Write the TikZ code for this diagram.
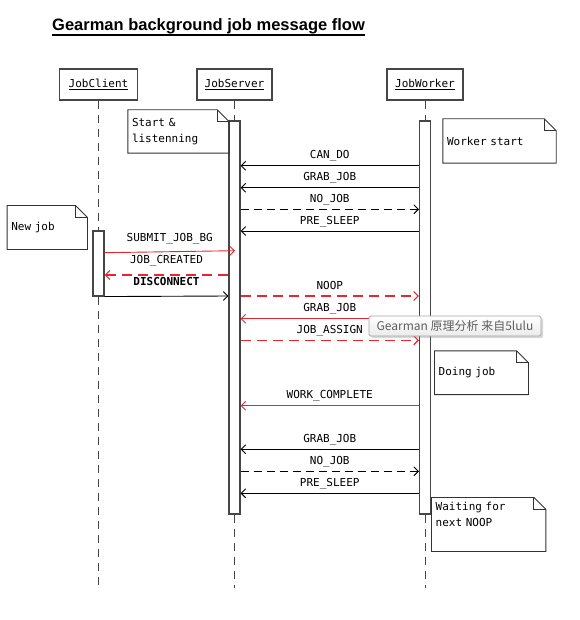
\documentclass[tikz,border=0pt]{standalone}
\usepackage{fontspec}
\newfontfamily\monof{DejaVu Sans Mono}
\newfontfamily\titlef{Liberation Sans}
\newfontfamily\cjkf{Noto Sans CJK SC}
\usetikzlibrary{arrows.meta,shadows}
\definecolor{msgred}{RGB}{228,40,50}
\definecolor{tipborder}{RGB}{165,165,165}
\definecolor{tiptext}{RGB}{95,95,95}
\definecolor{barline}{RGB}{70,70,70}
\newcommand\foldnote[1]{%
  \draw[noteline] (#1.north west) -- ([xshift=-12pt]#1.north east) -- ([yshift=-12pt]#1.north east) -- (#1.south east) -- (#1.south west) -- cycle;
  \draw[noteline] ([xshift=-12pt]#1.north east) |- ([yshift=-12pt]#1.north east);}
\begin{document}
\begin{tikzpicture}[x=1pt,y=-1pt,
  every node/.style={font=\monof\fontsize{11}{15.5}\selectfont},
  head/.style={draw=barline, line width=1.1pt, fill=white, minimum width=#1, minimum height=31pt, inner sep=0pt},
  bar/.style={draw=barline, line width=1.1pt, fill=white, minimum width=11pt, minimum height=#1, inner sep=0pt},
  life/.style={draw=barline, line width=1pt, dash pattern=on 8pt off 6pt},
  msg/.style={line width=0.9pt, draw=black, -{Straight Barb[length=4.5pt,width=9pt]}},
  rmsg/.style={msg, draw=msgred},
  dmsg/.style={msg, dash pattern=on 8pt off 5pt},
  rdmsg/.style={rmsg, line width=1.1pt, dash pattern=on 10pt off 6pt},
  lbl/.style={midway, anchor=base, inner sep=0pt, yshift=#1},
  lbl/.default=7pt,
  notebox/.style={inner xsep=4pt, inner ysep=0pt, align=left},
  noteline/.style={draw=black!80, line width=0.9pt},
  tipbox/.style={draw=tipborder, line width=0.8pt, rounded corners=1.5pt, top color=white, bottom color=black!8,
    minimum width=172pt, minimum height=20pt, inner sep=0pt, text=tiptext,
    font=\cjkf\fontsize{12}{14}\selectfont,
    drop shadow={opacity=0.3, shadow xshift=2pt, shadow yshift=-2pt}}
]
\useasboundingbox (0,0) rectangle (579,620);

% title
\node[anchor=base west, inner sep=0pt, font=\titlef\bfseries\fontsize{16.5}{18}\selectfont] (title) at (52,31) {Gearman background job message flow};
\draw[line width=1.5pt] ([yshift=-4pt]title.base west) -- ([yshift=-4pt]title.base east);

% heads
\node[head=78pt] (client) at (98.5,84.5) {\underline{JobClient}};
\node[head=75pt] (server) at (234.5,84.5) {\underline{JobServer}};
\node[head=76pt] (worker) at (425,84.5) {\underline{JobWorker}};

\coordinate (cend) at (98.5,588);
\coordinate (send) at (234.5,588);
\coordinate (wend) at (425,588);

% bars (positions)
\node[bar=65pt, draw=none, fill=none] (cbar) at (98.5,263.5) {};
\node[bar=393pt, draw=none, fill=none] (sbar) at (234.5,317.5) {};
\node[bar=393pt, draw=none, fill=none] (wbar) at (425,317.5) {};

% lifelines
\draw[life] (client.south) -- (cbar.north);
\draw[life] (cbar.south) -- (cend);
\draw[life] (server.south) -- (sbar.north);
\draw[life] (sbar.south) -- (send);
\draw[life] (worker.south) -- (wbar.north);
\draw[life] (wbar.south) -- (wend);

% bars drawn
\node[bar=65pt] at (cbar) {};
\node[bar=393pt] at (sbar) {};
\node[bar=393pt] at (wbar) {};

% notes
\node[notebox, minimum height=43pt, text width=93pt] (n1) at (178.5,131.5) {Start \&\\listenning};
\foldnote{n1}
\node[notebox, minimum height=44pt, text width=105pt] (n2) at (499.5,141) {Worker start};
\foldnote{n2}
\node[notebox, minimum height=43.6pt, text width=72pt] (n3) at (47.3,227.5) {New job};
\foldnote{n3}
\node[notebox, minimum height=43.3pt, text width=85.6pt] (n4) at (481.5,372.7) {Doing job};
\foldnote{n4}
\node[notebox, minimum height=53.6pt, text width=106pt] (n5) at (488.7,524.5) {Waiting for\\next NOOP\\\strut};
\foldnote{n5}

% messages
\draw[msg] (wbar.west |- 0,165.7) -- node[lbl]{CAN\_DO} (sbar.east |- 0,165.7);
\draw[msg] (wbar.west |- 0,187.7) -- node[lbl]{GRAB\_JOB} (sbar.east |- 0,187.7);
\draw[dmsg] (sbar.east |- 0,209.3) -- node[lbl]{NO\_JOB} (wbar.west |- 0,209.3);
\draw[msg] (wbar.west |- 0,231) -- node[lbl]{PRE\_SLEEP} (sbar.east |- 0,231);

\coordinate (subend) at (235,250.7);
\draw[rmsg] (cbar.east |- 0,252.7) -- node[lbl=10.4pt, text=black]{SUBMIT\_JOB\_BG} (subend);
\draw[rdmsg] (sbar.west |- 0,275) -- node[lbl=11.4pt, text=black]{JOB\_CREATED} (cbar.east |- 0,275);
\draw[msg] (cbar.south east) -- node[lbl=10.7pt, font=\monof\bfseries\fontsize{11}{13}\selectfont]{DISCONNECT} (sbar.west |- 0,296);

\draw[rdmsg] (sbar.east |- 0,296) -- node[lbl, text=black]{NOOP} (wbar.west |- 0,296);
\draw[rmsg] (wbar.west |- 0,318.7) -- node[lbl, text=black]{GRAB\_JOB} (sbar.east |- 0,318.7);
\draw[rdmsg] (sbar.east |- 0,340.3) -- node[lbl, text=black]{JOB\_ASSIGN} (wbar.west |- 0,340.3);
\draw[rmsg] (wbar.west |- 0,405.7) -- node[lbl, text=black]{WORK\_COMPLETE} (sbar.east |- 0,405.7);

\draw[msg] (wbar.west |- 0,449.3) -- node[lbl]{GRAB\_JOB} (sbar.east |- 0,449.3);
\draw[dmsg] (sbar.east |- 0,471.3) -- node[lbl]{NO\_JOB} (wbar.west |- 0,471.3);
\draw[msg] (wbar.west |- 0,493.3) -- node[lbl]{PRE\_SLEEP} (sbar.east |- 0,493.3);

% tooltip
\node[tipbox] (tip) at (455,326) {Gearman 原理分析 来自5lulu};
\end{tikzpicture}
\end{document}
